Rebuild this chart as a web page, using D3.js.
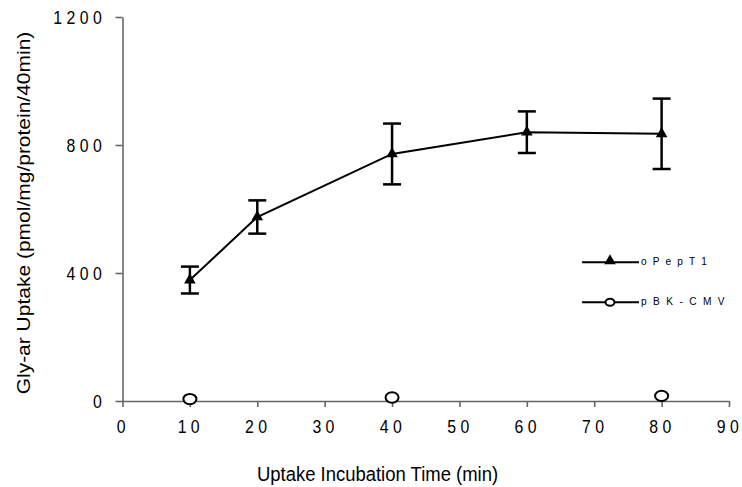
<!DOCTYPE html>
<html><head><meta charset="utf-8">
<script src="https://cdn.jsdelivr.net/npm/d3@7"></script>
<style>body{margin:0;background:#fff}svg{display:block}text{font-family:"Liberation Sans",Arial,sans-serif}</style>
</head><body><svg id="c" width="742" height="487"></svg>
<script>
const times = [10, 20, 40, 60, 80];
const pept1 = [378, 575, 772, 840, 835];
const pept1Err = [42, 52, 95, 65, 110];
const cmvTimes = [10, 40, 80];
const cmv = [6, 11, 16];
const xTicks = [0,10,20,30,40,50,60,70,80,90];
const yTicks = [0,400,800,1200];

const SX = 0.88; // horizontal text compression
const svg = d3.select("#c");
const x = d3.scaleLinear().domain([0,90]).range([122.5,729]);
const y = d3.scaleLinear().domain([0,1200]).range([401,17]);
const axisColor = "#666";

const xa = svg.append("g").attr("transform","translate(0,401)")
  .call(d3.axisBottom(x).tickValues(xTicks).tickSize(6).tickSizeOuter(0).tickFormat(d3.format("d")));
const ya = svg.append("g").attr("transform","translate(122.5,0)")
  .call(d3.axisLeft(y).tickValues(yTicks).tickSize(7).tickSizeOuter(0).tickFormat(d3.format("d")));
const spaced = s => { const n = String(s).length; return n*10.01 + (n-1)*5; };
[xa,ya].forEach(a=>{
  a.select(".domain").attr("stroke",axisColor).attr("stroke-width",1.6);
  a.selectAll(".tick line").attr("stroke",axisColor).attr("stroke-width",1.6);
  a.selectAll("text").attr("font-size",18).attr("fill","#000")
   .attr("font-family","'Liberation Sans',Arial,sans-serif")
   .attr("lengthAdjust","spacing").attr("textLength",function(){return spaced(this.textContent);});
});
xa.selectAll("text").attr("y",0).attr("dy",0).attr("x",-2)
  .attr("transform",`translate(0,32) scale(${SX},1)`);
ya.selectAll("text").attr("x",0).attr("dy",0).attr("y",0)
  .attr("transform",`translate(-20.8,6.5) scale(${SX},1)`);

svg.append("text").attr("transform",`translate(377.5,481) scale(${SX},1)`).attr("text-anchor","middle")
  .attr("font-size",21).text("Uptake Incubation Time (min)");
svg.append("text").attr("transform",`translate(30,213) scale(${SX},1) rotate(-90)`).attr("text-anchor","middle")
  .attr("font-size",21).text("Gly-ar Uptake (pmol/mg/protein/40min)");

// pBK-CMV circles
const cmvData = cmvTimes.map((t,i)=>({t,v:cmv[i]}));
svg.selectAll(".cm").data(cmvData).join("ellipse")
  .attr("cx",d=>x(d.t)).attr("cy",d=>y(d.v)).attr("rx",6.5).attr("ry",5.2)
  .attr("fill","#fff").attr("stroke","#000").attr("stroke-width",2);

// oPepT1
const pd = times.map((t,i)=>({t,v:pept1[i],e:pept1Err[i]}));
svg.append("path").datum(pd).attr("fill","none").attr("stroke","#000").attr("stroke-width",2)
  .attr("d", d3.line().x(d=>x(d.t)).y(d=>y(d.v)));
const eb = svg.append("g").attr("stroke","#000").attr("stroke-width",2.5);
pd.forEach(d=>{
  eb.append("line").attr("x1",x(d.t)).attr("x2",x(d.t)).attr("y1",y(d.v+d.e)).attr("y2",y(d.v-d.e));
  eb.append("line").attr("x1",x(d.t)-9).attr("x2",x(d.t)+9).attr("y1",y(d.v+d.e)).attr("y2",y(d.v+d.e));
  eb.append("line").attr("x1",x(d.t)-9).attr("x2",x(d.t)+9).attr("y1",y(d.v-d.e)).attr("y2",y(d.v-d.e));
});
const tri = d3.symbol().type(d3.symbolTriangle).size(58);
svg.selectAll(".tr").data(pd).join("path")
  .attr("transform",d=>`translate(${x(d.t)},${y(d.v)})`).attr("d",tri).attr("fill","#000");

// legend
const lg = svg.append("g");
lg.append("line").attr("x1",582).attr("x2",639).attr("y1",262.3).attr("y2",262.3).attr("stroke","#000").attr("stroke-width",2);
lg.append("path").attr("transform","translate(610,261)").attr("d",tri).attr("fill","#000");
lg.append("text").attr("transform",`translate(641,264.5) scale(${SX},1)`).attr("font-size",11.5)
  .attr("lengthAdjust","spacing").attr("textLength",75).text("oPepT1");
lg.append("line").attr("x1",582).attr("x2",639).attr("y1",302.3).attr("y2",302.3).attr("stroke","#000").attr("stroke-width",2);
lg.append("ellipse").attr("cx",610).attr("cy",302.3).attr("rx",4.5).attr("ry",3.5).attr("fill","#fff").attr("stroke","#000").attr("stroke-width",2);
lg.append("text").attr("transform",`translate(641,305) scale(${SX},1)`).attr("font-size",11.5)
  .attr("lengthAdjust","spacing").attr("textLength",95).text("pBK-CMV");
</script></body></html>
